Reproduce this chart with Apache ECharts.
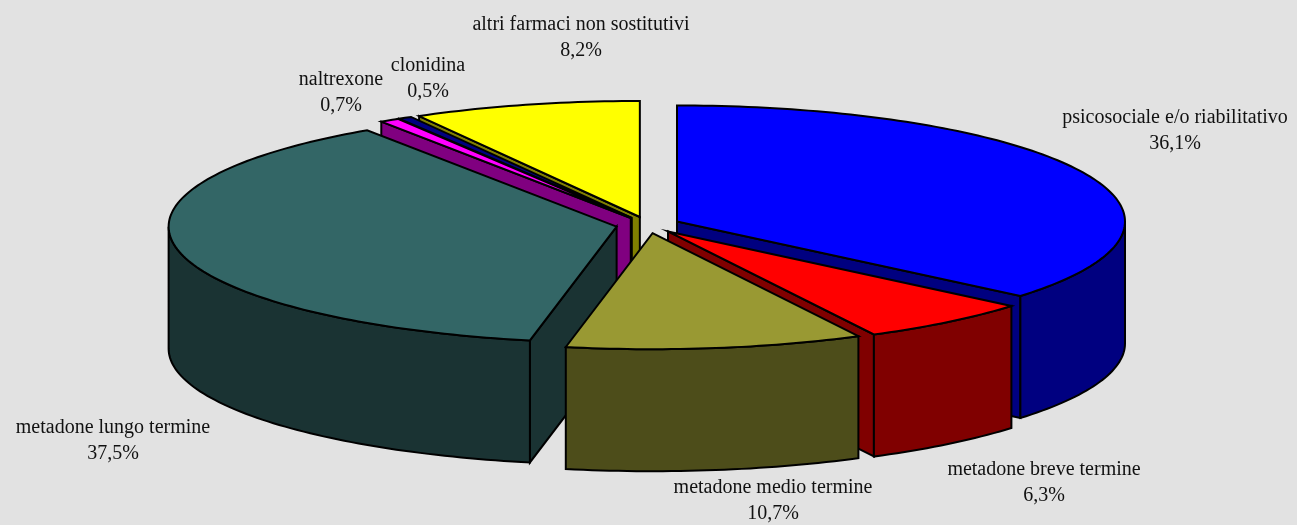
<!DOCTYPE html>
<html>
<head>
<meta charset="utf-8">
<script src="https://cdn.jsdelivr.net/npm/echarts@6/dist/echarts.min.js"></script>
<style>
  html, body { margin: 0; padding: 0; background: #e2e2e2; }
  #chart { width: 1297px; height: 525px; }
</style>
</head>
<body>
<div id="chart"></div>
<script>
// Treatment types and their share of the total (%)
const categories = [
  'psicosociale e/o riabilitativo',
  'metadone breve termine',
  'metadone medio termine',
  'metadone lungo termine',
  'naltrexone',
  'clonidina',
  'altri farmaci non sostitutivi'
];
const shares = [36.1, 6.3, 10.7, 37.5, 0.7, 0.5, 8.2];

// Face colours (top) and shaded colours (walls)
const topColors  = ['#0000ff', '#ff0000', '#999933', '#336666', '#ff00ff', '#000080', '#ffff00'];
const sideColors = ['#000080', '#800000', '#4d4d1a', '#1a3333', '#800080', '#000040', '#808000'];

// Where each label block is centred
const labelAnchors = [[1175, 131], [1044, 483], [773, 501], [113, 441], [341, 93], [428, 79], [581, 38]];

// Pie geometry: ellipse centre, radii, thickness and explode distance
const PIE = { cx: 648, cy: 225, rx: 448, ry: 116, depth: 122, explode: 32 };

const total = shares.reduce((s, v) => s + v, 0);
const startShare = [];
shares.reduce((acc, v, i) => { startShare[i] = acc; return acc + v; }, 0);

// Paint order: slices further back are drawn first
const mids = shares.map((v, i) => (startShare[i] + v / 2) / total * Math.PI * 2);
const order = mids.map((m, i) => i).sort((a, b) => Math.cos(mids[b]) - Math.cos(mids[a]));
const rank = [];
order.forEach((idx, r) => { rank[idx] = r; });

function fmt(v) { return v.toFixed(1).replace('.', ',') + '%'; }

function renderItem(params, api) {
  const i = params.dataIndex;
  const value = api.value(0);
  const a0 = startShare[i] / total * Math.PI * 2;
  const a1 = a0 + value / total * Math.PI * 2;
  const mid = (a0 + a1) / 2;
  const k = PIE.ry / PIE.rx;
  const cx = PIE.cx + PIE.explode * Math.sin(mid);
  const cy = PIE.cy - PIE.explode * k * Math.cos(mid);
  const D = PIE.depth;

  const pt = (t, dy) => [cx + PIE.rx * Math.sin(t), cy - PIE.ry * Math.cos(t) + (dy || 0)];
  const arc = (ta, tb, dy) => {
    const n = Math.max(2, Math.ceil(Math.abs(tb - ta) / 0.02));
    const pts = [];
    for (let j = 0; j <= n; j++) pts.push(pt(ta + (tb - ta) * j / n, dy));
    return pts;
  };

  const base = rank[i] * 10;
  const line = { stroke: '#000', lineWidth: 2, lineJoin: 'miter' };
  const children = [];
  const face = (t, z) => children.push({
    type: 'polygon', z2: base + z,
    shape: { points: [[cx, cy], pt(t), pt(t, D), [cx, cy + D]] },
    style: Object.assign({ fill: sideColors[i] }, line)
  });

  if (Math.sin(a0) < -1e-6) face(a0, 1);
  if (Math.sin(a1) > 1e-6) face(a1, 1);

  const lo = Math.max(a0, Math.PI / 2);
  const hi = Math.min(a1, Math.PI * 1.5);
  if (hi > lo) {
    children.push({
      type: 'polygon', z2: base + 2,
      shape: { points: arc(lo, hi, 0).concat(arc(hi, lo, D)) },
      style: Object.assign({ fill: sideColors[i] }, line)
    });
  }

  children.push({
    type: 'polygon', z2: base + 3,
    shape: { points: [[cx, cy]].concat(arc(a0, a1, 0)) },
    style: Object.assign({ fill: topColors[i] }, line)
  });

  children.push({
    type: 'text', z2: 200,
    x: labelAnchors[i][0], y: labelAnchors[i][1],
    style: {
      text: categories[i] + '\n' + fmt(value),
      fill: '#111',
      font: '20px "Liberation Serif", "Times New Roman", serif',
      lineHeight: 26,
      align: 'center',
      verticalAlign: 'middle'
    }
  });

  return { type: 'group', children };
}

const chart = echarts.init(document.getElementById('chart'), null, { renderer: 'canvas' });
chart.setOption({
  backgroundColor: '#e2e2e2',
  animation: false,
  series: [{
    type: 'custom',
    coordinateSystem: 'none',
    renderItem,
    data: shares.map((v, i) => ({ name: categories[i], value: [v] }))
  }]
});
</script>
</body>
</html>
